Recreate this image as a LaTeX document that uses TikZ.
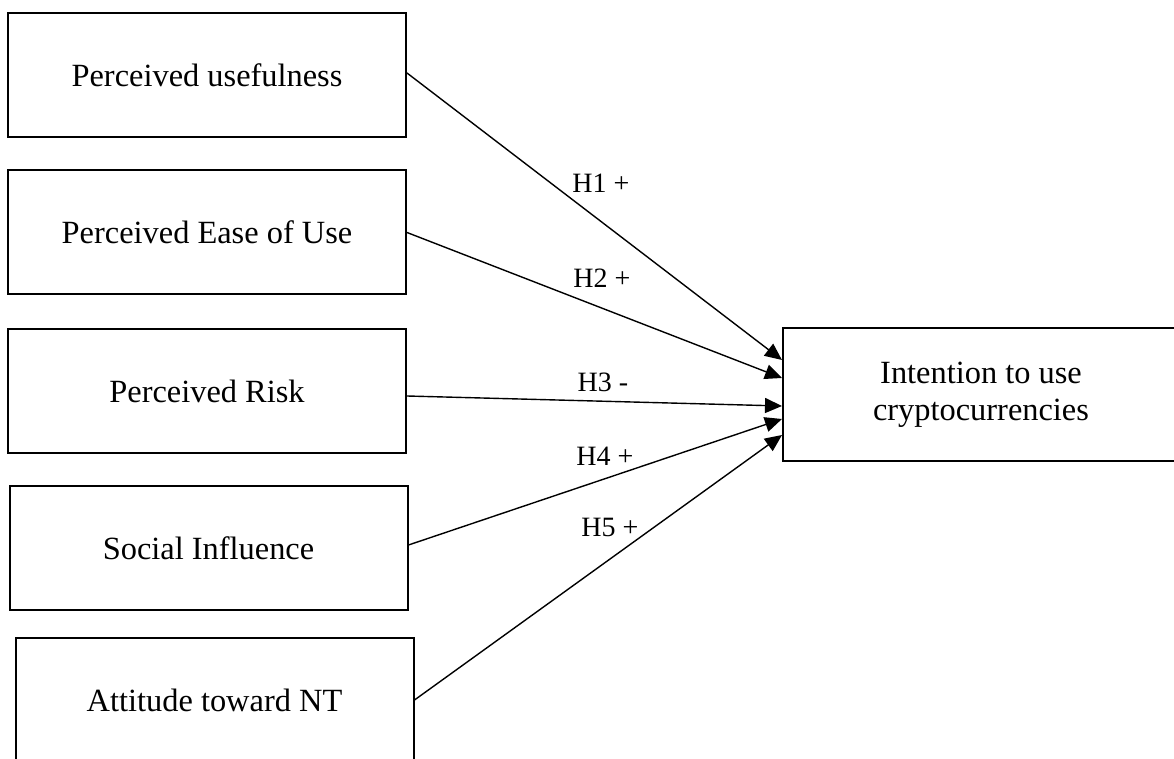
\documentclass[tikz,border=0pt]{standalone}
\usepackage{fontspec}
\setmainfont{Liberation Serif}
\usetikzlibrary{arrows.meta}

\begin{document}
\begin{tikzpicture}[x=0.5pt, y=-0.5pt,
    factor/.style={draw, line width=1pt, minimum width=199pt, minimum height=62pt, font=\fontsize{16.2}{18.5}\selectfont},
    outcome/.style={draw, line width=1pt, minimum width=198pt, minimum height=66.5pt, align=center, font=\fontsize{16.2}{18.5}\selectfont},
    link/.style={-{Triangle[length=8.5pt, width=7.5pt]}, line width=0.7pt},
    hyp/.style={font=\fontsize{14}{16}\selectfont}]
    \useasboundingbox (0,0) rectangle (1174,759);

    % Factor boxes
    \node[factor] (pu) at (207,75) {Perceived usefulness};
    \node[factor] (peou) at (207,232.5) {Perceived Ease of Use};
    \node[factor] (risk) at (207,391) {Perceived Risk};
    \node[factor] (social) at (208.5,548) {Social Influence};
    \node[factor] (attitude) at (214.5,700) {Attitude toward NT};

    % Outcome box
    \node[outcome] (intent) at (981,394.5) {Intention to use\\cryptocurrencies};

    % Arrows
    \draw[link] ([yshift=1pt]pu.east) -- ([yshift=17.25pt]intent.west);
    \draw[link] (peou.east) -- ([yshift=8.25pt]intent.west);
    \draw[link] ([yshift=-2.5pt]risk.east) -- ([yshift=-5.75pt]intent.west);
    \draw[link] ([yshift=1.5pt]social.east) -- ([yshift=-12.25pt]intent.west);
    \draw[link] (attitude.east) -- ([yshift=-20.25pt]intent.west);

    % Hypothesis labels
    \node[hyp] (h1) at (601,183) {H1 +};
    \node[hyp] (h2) at (602,278) {H2 +};
    \node[hyp] (h3) at (603,382) {H3 -};
    \node[hyp] (h4) at (605,456) {H4 +};
    \node[hyp] (h5) at (610,527) {H5 +};
\end{tikzpicture}
\end{document}
